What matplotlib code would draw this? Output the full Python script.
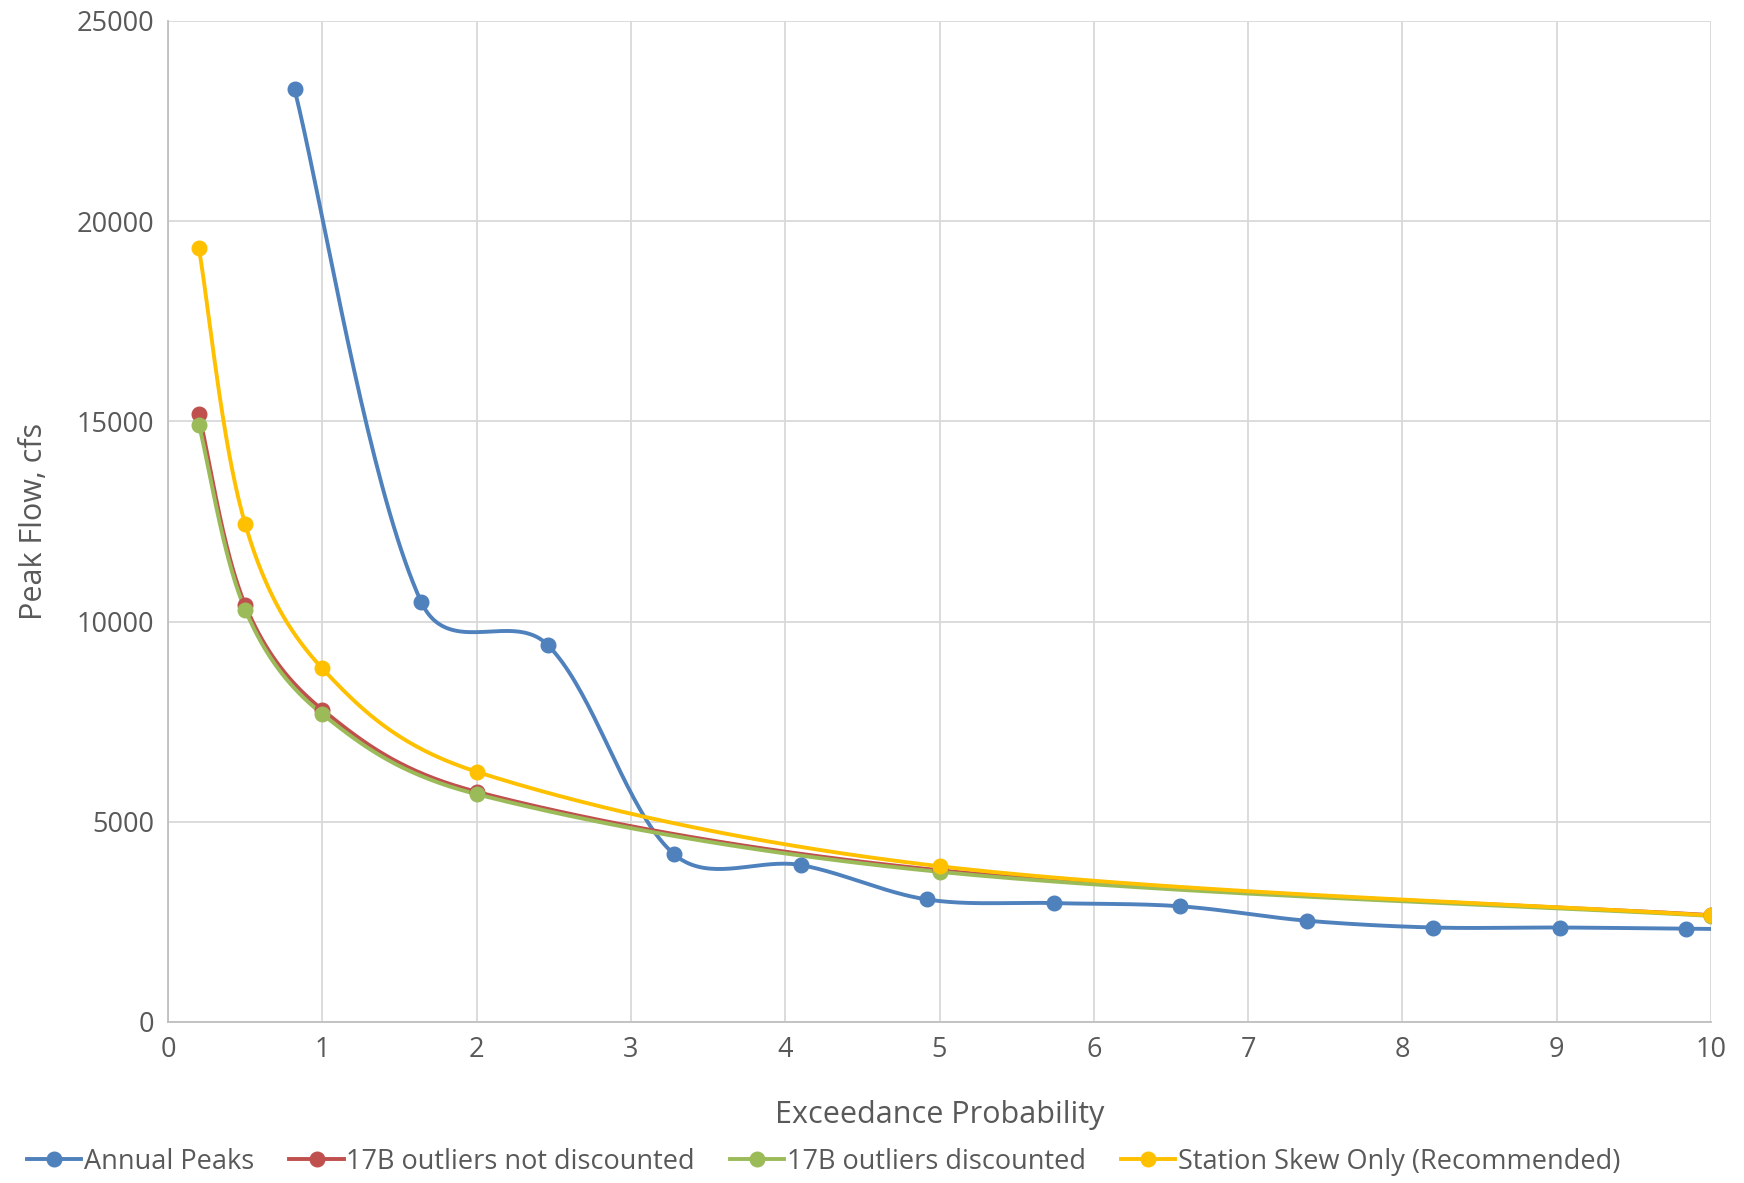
import numpy as np
import matplotlib.pyplot as plt

plt.rcParams['font.family'] = ['Open Sans', 'DejaVu Sans']

# annual peaks: plotting positions m/(n+1)*100
annual_x = [0.82, 1.64, 2.46, 3.28, 4.10, 4.92, 5.74, 6.56, 7.38, 8.20, 9.02, 9.84, 10.66]
annual_y = [23300, 10500, 9420, 4190, 3920, 3060, 2970, 2890, 2530, 2360, 2360, 2330, 2300]

freq_x = [0.2, 0.5, 1, 2, 5, 10]
not_disc_y = [15190, 10420, 7800, 5750, 3790, 2670]
disc_y = [14920, 10300, 7690, 5690, 3750, 2650]
station_y = [19330, 12440, 8830, 6250, 3890, 2660]

names = ["Annual Peaks", "17B outliers not discounted", "17B outliers discounted",
         "Station Skew Only (Recommended)"]
colors = ["#4f81bd", "#c0504d", "#9bbb59", "#ffc000"]


def smooth(x, y, n=40):
    # Excel-like smoothing: bezier, tangent damped by chord lengths (screen units)
    x = np.asarray(x, float); y = np.asarray(y, float)
    sx, sy = 154.0, 0.04          # approx pixels per unit on each axis
    P = np.column_stack([x * sx, y * sy])
    P = np.vstack([P[0], P, P[-1]])
    t = np.linspace(0, 1, n)[:, None]
    out = []
    for i in range(1, len(P) - 2):
        p0, p1, p2, p3 = P[i-1], P[i], P[i+1], P[i+2]
        d01 = np.hypot(*(p1 - p0)); d12 = np.hypot(*(p2 - p1)); d23 = np.hypot(*(p3 - p2))
        f1 = np.sqrt(2 * d12 / (d01 + d12)) / 6
        f2 = np.sqrt(2 * d12 / (d12 + d23)) / 6
        c1 = p1 + (p2 - p0) * f1
        c2 = p2 - (p3 - p1) * f2
        seg = (1-t)**3 * p1 + 3*(1-t)**2*t * c1 + 3*(1-t)*t**2 * c2 + t**3 * p2
        out.append(seg)
    out = np.vstack(out)
    return out[:, 0] / sx, out[:, 1] / sy


fig = plt.figure(figsize=(17.44, 11.83), dpi=100)
ax = fig.add_axes([168/1744, 1 - 1022/1183, (1711-168)/1744, (1022-21)/1183])

series = [(annual_x, annual_y), (freq_x, not_disc_y), (freq_x, disc_y), (freq_x, station_y)]
for (x, y), name, c in zip(series, names, colors):
    sx, sy = smooth(x, y)
    ax.plot(sx, sy, color=c, lw=2.8, zorder=3)
    ax.plot(x, y, 'o', color=c, ms=10.5, zorder=4)
    ax.plot([], [], '-o', color=c, lw=2.8, ms=10.5, label=name)

ax.set_xlim(0, 10)
ax.set_ylim(0, 25000)
ax.set_xticks(range(0, 11))
ax.set_yticks(range(0, 25001, 5000))
ax.grid(True, color='#d9d9d9', lw=1.3)
ax.set_axisbelow(True)
for s in ['top', 'right']:
    ax.spines[s].set_visible(False)
for s in ['left', 'bottom']:
    ax.spines[s].set_color('#bfbfbf')
    ax.spines[s].set_linewidth(1.3)
ax.tick_params(length=0, labelsize=19.5, colors='#595959', pad=10)
ax.set_xlabel("Exceedance Probability", fontsize=22, color='#595959', labelpad=26)
ax.set_ylabel("Peak Flow, cfs", fontsize=22, color='#595959', labelpad=20)

ax.legend(loc='lower center', bbox_to_anchor=(0.425, -0.178), ncol=4, frameon=False,
          fontsize=19.5, labelcolor='#595959', handlelength=2.0, handletextpad=0.1,
          columnspacing=1.3)

fig.savefig("out.png", dpi=100)
